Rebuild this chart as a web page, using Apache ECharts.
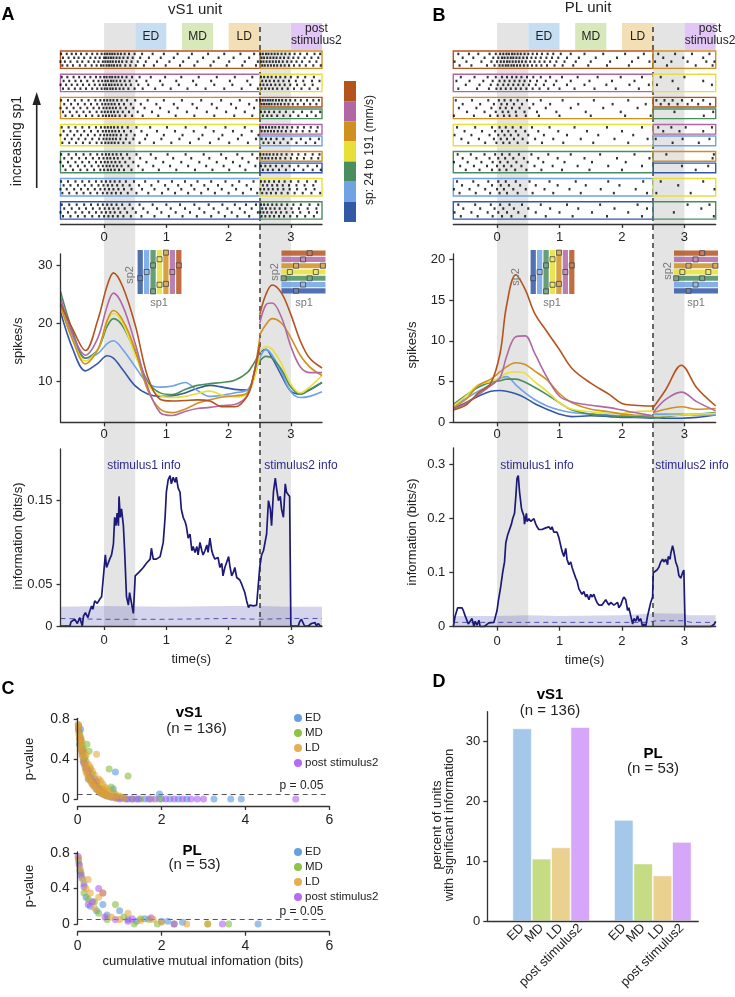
<!DOCTYPE html>
<html><head><meta charset="utf-8">
<script src="https://cdn.jsdelivr.net/npm/echarts@6/dist/echarts.min.js"></script>
<style>html,body{margin:0;padding:0;background:#fff}#c{width:735px;height:997px}</style>
</head><body><div id="c"></div>
<script>
// ---------------- DATA ----------------
const epochNames = ['ED', 'MD', 'LD', 'post stimulus2'];
const epochWindows = [[0.5, 1.0], [1.25, 1.75], [2.0, 2.5], [3.0, 3.5]];
const stimWindows = [[0, 0.5], [2.5, 3.0]];
const timeTicks = [0, 1, 2, 3];

// raster: spike times (centiseconds) per trial, rows from highest sp1 (top) to lowest
const rasterA_left = [
 ["-69 -60 -52 -45 -37 -28 -19 -11 -4 1 5 9 13 17 22 27 33 40 49 61 78 96 118 141 167 193 219 241","-66 -57 -48 -41 -32 -22 -14 -7 0 3 7 11 15 20 25 31 38 46 58 72 91 112 136 159 184 208 233","-70 -63 -54 -43 -35 -25 -16 -9 -2 2 6 10 14 19 24 29 36 44 54 67 85 105 127 150 176 201 226 247","-67 -59 -50 -39 -30 -20 -12 -5 -1 4 8 12 16 21 26 34 42 51 64 80 99 122 145 171 197 222 244"],
 ["-68 -59 -49 -40 -31 -22 -13 -6 0 4 9 13 18 23 29 36 45 57 75 98 124 152 181 210 238","-65 -56 -46 -37 -27 -17 -9 -3 2 6 11 15 20 26 33 41 52 68 90 116 143 172 202 230","-70 -61 -52 -43 -34 -24 -15 -7 -1 3 8 12 17 22 28 35 43 55 71 94 120 148 177 206 235","-66 -57 -47 -38 -29 -19 -11 -4 1 5 10 14 19 25 31 39 49 62 82 107 134 163 193 221 247"],
 ["-69 -58 -47 -36 -25 -14 -6 0 5 10 15 21 28 37 50 70 96 125 156 188 218 245","-64 -53 -42 -31 -21 -11 -3 2 7 12 17 24 32 43 59 84 112 142 173 204 233","-70 -60 -49 -38 -27 -17 -8 -1 4 9 14 19 26 35 47 65 90 118 149 181 212 241","-66 -55 -44 -33 -23 -12 -4 1 6 11 16 22 30 40 54 77 104 133 165 196 226","-62 -51 -40 -29 -19 -9 -2 3 8 13 18 25 34 45 62 87 115 145 177 209 238"],
 ["-68 -57 -46 -35 -24 -13 -5 1 6 11 16 22 29 38 52 74 101 131 163 195 226","-65 -54 -43 -32 -21 -10 -2 3 8 13 18 24 32 43 60 85 114 144 176 207 237","-70 -59 -48 -37 -26 -15 -6 0 5 10 15 20 27 36 49 69 96 126 158 190 221 248","-63 -52 -41 -30 -19 -8 -1 4 9 14 19 26 35 47 66 92 121 152 184 215 244","-67 -56 -45 -34 -23 -12 -4 2 7 12 17 23 31 41 57 80 108 138 170 201 231"],
 ["-69 -57 -45 -33 -22 -11 -3 3 8 14 20 27 37 52 75 102 131 160 188 214 238","-64 -52 -40 -29 -18 -8 -1 5 10 16 22 30 41 58 83 111 140 169 196 222 246","-70 -58 -46 -35 -24 -13 -5 1 6 12 18 25 34 47 68 95 124 153 181 207 232","-66 -54 -42 -31 -20 -9 -2 4 9 15 21 28 39 55 79 106 135 164 192 218 243","-62 -50 -38 -27 -16 -6 0 6 11 17 24 32 44 62 88 116 146 174 201 227"],
 ["-69 -58 -46 -35 -24 -13 -4 3 10 17 25 35 48 66 87 109 130 150 172 195 217 240","-65 -54 -42 -31 -20 -9 -1 6 13 21 30 41 56 76 98 119 140 161 183 206 229","-70 -60 -48 -37 -26 -15 -6 1 8 15 23 32 44 61 81 103 124 145 167 189 212 236","-67 -56 -44 -33 -22 -11 -2 5 12 19 27 38 52 71 93 114 135 156 178 200 223 246"],
 ["-68 -56 -44 -32 -21 -10 -2 5 12 20 29 41 57 78 100 122 145 168 190 210 228 244","-64 -52 -40 -29 -18 -7 1 8 15 23 33 46 63 85 107 130 153 176 198 218 237","-70 -58 -46 -35 -24 -13 -4 3 10 17 26 37 51 70 92 115 138 161 184 205 226 247","-66 -54 -42 -31 -19 -8 0 7 14 22 31 43 60 81 104 126 149 172 194 214 233"]
];
const rasterA_right = [
 [["251 255 260 264 269 274 279 285 291 298 306 315 326 338 347","253 257 262 267 272 277 283 289 296 304 312 322 333 344","252 256 261 266 271 276 281 287 294 301 309 318 330 341","254 258 263 268 273 278 284 290 297 305 314 324 336 348"]],
 [["252 257 263 269 276 283 291 300 311 323 337","254 260 266 273 280 288 297 308 320 334 346","251 256 262 268 275 282 290 299 310 322 335","253 259 265 271 278 286 295 305 317 330 343"]],
 [["251 255 259 263 267 271 276 281 286 292 299 307 316 326 336 345","253 257 261 265 269 274 279 284 290 296 303 311 321 331 341"],["252 258 265 273 282 292 304 318 333 347","255 262 269 278 288 299 312 326 340"]],
 [["251 255 260 265 270 275 281 287 294 302 311 321 332 343","253 258 263 268 273 279 285 292 300 309 319 330 341"],["253 260 268 277 288 301 316 331 345","256 264 273 283 295 309 324 339"]],
 [["251 256 261 266 272 278 285 293 302 312 323 335 346","254 259 264 270 276 283 291 300 310 321 333 344"],["252 259 267 276 286 298 312 327 342","255 263 271 281 292 305 320 335 348"]],
 [["252 258 265 273 281 290 300 312 326 340","255 262 270 278 287 297 309 322 336","251 257 264 271 279 288 298 310 324 338","254 261 268 276 285 295 306 319 333 347"]],
 [["252 257 263 270 277 285 294 304 316 330 344","254 260 267 274 282 291 301 313 327 341","251 256 262 269 276 284 293 303 315 329 342","253 259 266 273 281 289 299 310 323 337"]]
];
const rasterB_left = [
 ["-62 -45 -30 -12 -2 5 10 15 19 24 28 33 38 44 50 57 64 72 81 90 102 118 140 170 205 235","-55 -38 -20 -6 2 8 12 17 22 26 31 36 42 48 55 62 70 79 88 98 112 131 158 192 226","-68 -49 -25 -9 0 6 11 16 20 25 30 35 40 46 53 60 68 76 85 95 108 126 150 181 216 244","-60 -41 -16 -4 4 9 14 18 23 27 32 37 43 49 56 63 71 80 92 105 122 146 176 211"],
 ["-58 -36 -15 -2 8 16 24 31 39 48 58 70 85 104 129 161 198 232","-65 -44 -22 -7 4 12 20 28 36 44 53 64 78 95 118 148 184 220","-50 -28 -10 1 10 18 26 34 42 51 62 75 91 112 140 175 212 243","-62 -32 -13 -1 6 14 22 30 38 47 57 68 82 100 124 156 190 227"],
 ["-66 -40 -14 3 12 22 33 48 70 105 155 210","-55 -27 -5 7 16 27 40 58 85 130 185 238","-61 -33 -9 5 14 24 36 52 78 118 170 225","-48 -20 -2 9 18 30 44 64 95 142 198","-69 -37 -11 1 11 20 31 46 67 100 150 205 246"],
 ["-64 -35 -8 4 14 25 38 56 84 124 176 232","-52 -24 -3 8 18 30 45 66 98 144 200","-68 -41 -12 2 12 22 34 50 75 112 162 218","-57 -29 -5 6 16 27 41 61 90 134 188 241","-46 -19 -1 10 20 33 49 72 106 154 210"],
 ["-63 -42 -20 -3 8 20 35 55 82 118 165 220","-55 -33 -12 2 13 26 43 66 97 140 192 244","-69 -47 -25 -7 5 17 31 49 74 108 152 206","-59 -37 -16 0 11 23 39 60 89 129 178 232","-50 -28 -8 4 15 29 47 71 104 148 200"],
 ["-64 -38 -14 2 14 30 52 84 126 178 234","-56 -30 -8 6 19 37 62 97 142 196","-69 -44 -19 0 11 26 46 76 116 166 222","-60 -34 -11 4 16 33 57 90 134 187 240"],
 ["-62 -35 -10 5 20 40 70 112 165 225","-54 -27 -4 10 27 50 85 130 188 240","-68 -41 -15 2 16 34 62 100 152 210","-58 -31 -7 8 23 45 78 121 176 232"]
];
const rasterB_right = [
 [["258 285 312 340","266 298 330","253 279 305 335 348","272 318 345"]],
 [["262 300","281 330","256 344","290"]],
 [["255 268 281 296 312 330","262 275 289 305 322 341"],["284 346","331"]],
 [["258 279 302 344","266 292 330"],["254 297 340","281 323"]],
 [["271 347","345"],["296 338","318"]],
 [["262 330","290","348","255 310"]],
 [["305 340","327","283","347"]]
];
// sp2 condition index of each right-hand (post stimulus2) box, per row
const rightBoxCond = [[2], [3], [0, 4], [1, 5], [2, 6], [3], [4]];

// firing rates (spikes/s), rows: highest sp1 -> lowest
const rateTimesPreA = [-0.7,-0.5,-0.3,-0.1,0.05,0.15,0.3,0.5,0.7,0.9,1.1,1.3,1.5,1.7,1.9,2.1,2.3,2.4,2.5];
const rateTimesPostA = [2.5,2.6,2.7,2.85,3.0,3.15,3.3,3.5];
const ratePreA = [
 [23.4,18.9,15.3,20.6,26.5,28.7,26.3,19.7,10.8,6.9,6.6,6.7,6.8,6.6,5.6,5.6,7.5,11,16.5],
 [24.5,18,14.5,17.5,23,25.2,23,16.5,9,4.6,4.1,4.8,5.3,5.5,5.8,6.0,7.5,11,16],
 [23,17,13,15.5,20.5,22.2,20.5,15.5,8.5,5.2,4.6,5.2,6.2,6.8,7.3,7.5,8,11,17.5],
 [23,17,13.5,15.5,20.3,21.7,20,14.5,9.5,7.5,7.2,7.4,7.9,8.3,7.6,7.3,7.8,10,14.5],
 [25.5,18.5,14,15.5,19.5,20.8,19.5,15,10,8,7.7,8.6,9.3,9.6,9.8,10.2,11.5,13,15],
 [23.5,17.5,14,14.8,16.5,17,15.5,12.5,9.7,9,9.2,9.8,8.4,7.4,7.6,8,8.5,10.5,14],
 [22,15.5,11.8,13.1,14.4,14,12,9.2,7.8,7.4,7.5,8,8.8,9.3,9,8.6,8.5,10.5,14.5]
];
const ratePostA = [
 [21.5,25,26.6,25.2,21.5,17,14,12.3],
 [20,23.2,23.5,21,16,12.5,11.5,11.5],
 [18,19.8,20.8,20,17.5,14.5,12.5,11],
 [15,16,15.5,13,9.5,8,9,11],
 [13.5,14.3,14,12,9,7.8,8.6,9.8],
 [14,15.5,14.5,11.5,8.2,7.2,7.4,8.2],
 [15,15.5,14,11,8.3,7.8,8.5,9.8]
];
const rateTimesPreB = [-0.7,-0.5,-0.3,-0.1,0.05,0.15,0.3,0.45,0.6,0.8,1.0,1.2,1.5,1.8,2.0,2.2,2.5];
const rateTimesPostB = [2.5,2.7,2.95,3.2,3.5];
const ratePreB = [
 [1.5,2.1,3.6,4.8,8.5,14.2,18.1,16.3,13.4,11.1,8.9,6.6,4.8,3.4,2.3,2.1,2.0],
 [1.6,2.3,3.4,4.5,5.5,8.0,10.5,10.6,8.5,5.5,3.2,2.5,2.1,1.8,1.5,1.2,0.8],
 [1.8,2.8,4.5,5.3,6.2,6.8,7.3,7.1,6.3,5.2,3.5,2.4,1.6,1.3,1.0,0.9,0.8],
 [2.0,3.2,4.6,5.0,5.5,6.0,6.2,6.0,5.0,3.8,2.4,1.6,1.3,1.1,1.1,1.3,1.4],
 [2.2,3.3,4.3,4.9,5.1,5.3,5.3,4.9,4.3,3.4,2.4,1.5,1.0,0.8,0.7,0.7,0.6],
 [2.0,2.9,3.8,4.6,5.4,5.6,4.6,3.6,2.8,2.0,1.5,1.2,1.0,0.9,0.8,0.7,0.6],
 [1.7,2.4,3.2,3.8,3.9,3.8,3.5,3.0,2.3,1.6,1.0,0.7,0.8,0.7,0.6,0.6,0.5]
];
const ratePostB = [
 [1.8,4.0,7.0,4.2,2.0],
 [1.2,2.8,3.7,2.5,1.4],
 [1.2,1.6,1.9,1.6,1.7],
 [0.8,0.8,0.9,1.0,1.1],
 [0.5,0.7,0.9,1.0,1.2],
 [1.0,1.0,1.0,0.9,0.9],
 [0.6,0.5,0.5,0.6,0.9]
];

// information (bits/s): [time, value]
const infoA = [[-0.71,0],[-0.55,0],[-0.53,0.005],[-0.47,0.008],[-0.43,0.003],[-0.39,0.01],[-0.35,0],[-0.33,0.012],[-0.3,0.016],[-0.26,0.01],[-0.23,0.018],[-0.2,0.024],[-0.18,0.02],[-0.15,0.03],[-0.11,0.027],[-0.07,0.032],[-0.04,0.035],[-0.01,0.033],[0.02,0.085],[0.04,0.07],[0.06,0.07],[0.09,0.08],[0.12,0.085],[0.15,0.098],[0.17,0.13],[0.19,0.12],[0.21,0.135],[0.23,0.12],[0.24,0.155],[0.26,0.13],[0.28,0.14],[0.31,0.12],[0.33,0.09],[0.36,0.035],[0.39,0.025],[0.41,0.04],[0.44,0.04],[0.47,0.015],[0.48,0.013],[0.5,0.06],[0.53,0.062],[0.57,0.065],[0.63,0.07],[0.68,0.075],[0.74,0.08],[0.76,0.093],[0.79,0.08],[0.84,0.08],[0.9,0.083],[0.92,0.085],[0.95,0.1],[0.98,0.13],[1.0,0.16],[1.03,0.175],[1.06,0.18],[1.08,0.17],[1.11,0.178],[1.14,0.172],[1.16,0.178],[1.19,0.165],[1.22,0.16],[1.24,0.14],[1.27,0.13],[1.3,0.125],[1.32,0.12],[1.35,0.105],[1.38,0.11],[1.41,0.09],[1.43,0.095],[1.46,0.088],[1.49,0.095],[1.51,0.085],[1.54,0.1],[1.57,0.09],[1.59,0.085],[1.62,0.09],[1.65,0.097],[1.67,0.088],[1.7,0.105],[1.73,0.09],[1.75,0.085],[1.78,0.08],[1.81,0.078],[1.83,0.082],[1.86,0.07],[1.89,0.075],[1.91,0.06],[1.94,0.07],[1.97,0.068],[2.0,0.083],[2.02,0.072],[2.05,0.06],[2.08,0.065],[2.1,0.07],[2.13,0.058],[2.16,0.06],[2.18,0.055],[2.21,0.05],[2.24,0.048],[2.26,0.04],[2.29,0.03],[2.32,0.022],[2.34,0.025],[2.37,0.023],[2.4,0.024],[2.42,0.025],[2.45,0.025],[2.48,0.026],[2.5,0.07],[2.53,0.085],[2.56,0.09],[2.58,0.09],[2.61,0.11],[2.64,0.15],[2.67,0.14],[2.69,0.12],[2.72,0.16],[2.75,0.177],[2.77,0.165],[2.8,0.15],[2.83,0.155],[2.85,0.14],[2.88,0.13],[2.91,0.17],[2.93,0.16],[2.96,0.162],[2.98,0.155],[3.0,0],[3.12,0],[3.14,0.005],[3.17,0.008],[3.2,0.008],[3.22,0],[3.28,0],[3.33,0.003],[3.36,0.002],[3.39,0.004],[3.41,0],[3.44,0.003],[3.47,0],[3.5,0]];
const infoB = [[-0.7,0],[-0.67,0.02],[-0.63,0.035],[-0.6,0.038],[-0.56,0.035],[-0.54,0.03],[-0.51,0.02],[-0.48,0.02],[-0.46,0.005],[-0.43,0.01],[-0.4,0.015],[-0.37,0],[-0.35,0.01],[-0.32,0.003],[-0.29,0.012],[-0.27,0],[-0.24,0.003],[-0.21,0],[-0.19,0.003],[-0.13,0.007],[-0.11,0.008],[-0.05,0.008],[-0.03,0.01],[0,0.03],[0.02,0.047],[0.04,0.05],[0.06,0.075],[0.09,0.1],[0.12,0.12],[0.14,0.155],[0.17,0.17],[0.2,0.17],[0.23,0.19],[0.25,0.2],[0.28,0.21],[0.3,0.24],[0.32,0.275],[0.34,0.28],[0.36,0.25],[0.39,0.22],[0.4,0.215],[0.43,0.205],[0.44,0.19],[0.47,0.21],[0.48,0.195],[0.51,0.2],[0.54,0.195],[0.56,0.195],[0.59,0.2],[0.62,0.19],[0.64,0.185],[0.67,0.18],[0.7,0.18],[0.72,0.18],[0.75,0.178],[0.78,0.183],[0.8,0.18],[0.83,0.185],[0.86,0.18],[0.88,0.185],[0.91,0.175],[0.94,0.178],[0.96,0.175],[0.99,0.165],[1.02,0.15],[1.04,0.14],[1.07,0.13],[1.1,0.145],[1.12,0.125],[1.15,0.115],[1.18,0.12],[1.2,0.11],[1.23,0.1],[1.26,0.09],[1.28,0.085],[1.31,0.07],[1.34,0.07],[1.36,0.06],[1.39,0.065],[1.42,0.055],[1.44,0.06],[1.47,0.05],[1.5,0.06],[1.52,0.055],[1.55,0.06],[1.58,0.05],[1.6,0.045],[1.63,0.04],[1.66,0.038],[1.68,0.04],[1.71,0.04],[1.74,0.05],[1.77,0.052],[1.79,0.04],[1.82,0.045],[1.85,0.042],[1.87,0.04],[1.9,0.04],[1.93,0.045],[1.95,0.035],[1.98,0.04],[2.01,0.05],[2.03,0.055],[2.06,0.05],[2.09,0.03],[2.11,0.035],[2.14,0.02],[2.17,0.005],[2.19,0.015],[2.22,0.01],[2.25,0.02],[2.27,0.01],[2.3,0.015],[2.33,0],[2.35,0.005],[2.38,0],[2.41,0.02],[2.43,0.03],[2.46,0.045],[2.49,0.055],[2.5,0.1],[2.52,0.1],[2.56,0.105],[2.59,0.11],[2.62,0.12],[2.65,0.125],[2.67,0.12],[2.7,0.125],[2.73,0.115],[2.74,0.13],[2.77,0.125],[2.78,0.135],[2.81,0.15],[2.83,0.14],[2.86,0.12],[2.89,0.11],[2.91,0.095],[2.94,0.09],[2.97,0.1],[2.99,0.105],[3.01,0],[3.42,0],[3.48,0.005],[3.5,0.01]];
// shuffled-data control: upper bound and mean
const shufHiA = [[-0.7,0.023],[0,0.024],[1,0.023],[2,0.024],[2.5,0.024],[3,0.023],[3.5,0.023]];
const shufMeanA = [[-0.7,0.009],[0,0.008],[1,0.008],[2,0.009],[2.5,0.008],[3,0.009],[3.5,0.009]];
const shufHiB = [[-0.7,0.02],[0,0.02],[0.5,0.021],[1,0.02],[2,0.021],[2.5,0.025],[3,0.024],[3.05,0.021],[3.5,0.021]];
const shufMeanB = [[-0.7,0.008],[2.4,0.008],[2.55,0.011],[3,0.011],[3.1,0.008],[3.5,0.008]];

// panel C: [cumulative mutual information (bits), p-value]
const vs1ED = [[0.02,0.74],[0.03,0.68],[0.05,0.62],[0.04,0.55],[0.08,0.58],[0.1,0.5],[0.12,0.44],[0.15,0.4],[0.18,0.35],[0.2,0.31],[0.24,0.27],[0.28,0.22],[0.32,0.19],[0.36,0.15],[0.4,0.13],[0.45,0.1],[0.5,0.08],[0.55,0.06],[0.6,0.05],[0.65,0.04],[0.7,0.03],[0.8,0.02],[0.9,0.27],[0.85,0.1],[0.95,0.01],[1.05,0.01],[1.2,0],[1.4,0],[1.6,0],[1.95,0.05],[2.0,0],[2.2,0],[2.4,0],[2.6,0],[3.25,0],[3.65,0],[3.9,0],[0.25,0.2],[0.07,0.7],[0.13,0.38]];
const vs1MD = [[0.02,0.72],[0.05,0.66],[0.07,0.6],[0.1,0.54],[0.12,0.47],[0.17,0.42],[0.22,0.55],[0.27,0.48],[0.3,0.3],[0.35,0.25],[0.4,0.2],[0.45,0.16],[0.5,0.12],[0.55,0.1],[0.6,0.06],[0.7,0.05],[0.75,0.3],[0.8,0.12],[0.9,0.03],[1.0,0.02],[1.2,0.23],[1.1,0.01],[1.3,0],[1.5,0],[1.75,0],[1.95,0],[0.2,0.38],[0.14,0.5],[0.65,0.08],[0.85,0.06]];
const vs1LD = [[0.01,0.75],[0.02,0.7],[0.03,0.65],[0.04,0.6],[0.05,0.55],[0.06,0.5],[0.08,0.52],[0.1,0.45],[0.12,0.42],[0.14,0.38],[0.16,0.34],[0.18,0.3],[0.2,0.27],[0.22,0.25],[0.25,0.22],[0.28,0.2],[0.3,0.18],[0.33,0.16],[0.36,0.14],[0.4,0.12],[0.44,0.1],[0.48,0.09],[0.52,0.07],[0.56,0.06],[0.6,0.05],[0.65,0.04],[0.7,0.03],[0.75,0.025],[0.8,0.02],[0.9,0.01],[0.45,0.45],[0.35,0.28],[0.5,0.2],[0.6,0.15],[0.7,0.1],[0.08,0.62],[0.15,0.48],[0.25,0.35],[0.4,0.24],[0.55,0.18],[0.65,0.12],[0.03,0.72],[0.1,0.58],[0.2,0.44],[0.3,0.32],[0.45,0.16],[0.58,0.1],[0.75,0.07],[0.9,0.05],[1.0,0.03],[1.1,0.01]];
const vs1Post = [[0.02,0.7],[0.05,0.6],[0.1,0.48],[0.15,0.36],[0.2,0.3],[0.3,0.22],[0.4,0.15],[0.5,0.1],[0.6,0.07],[0.7,0.04],[0.8,0.02],[0.9,0.01],[1.0,0],[1.15,0],[1.3,0],[1.45,0],[1.7,0],[1.85,0],[2.1,0],[2.3,0],[2.5,0],[2.7,0],[2.85,0],[3.0,0],[5.2,0],[0.45,0.18],[0.25,0.28]];
const plED = [[0.02,0.72],[0.05,0.6],[0.1,0.52],[0.15,0.45],[0.2,0.3],[0.3,0.2],[0.45,0.15],[0.6,0.22],[0.7,0.1],[1.0,0.15],[1.2,0.05],[1.4,0.03],[1.6,0.06],[2.0,0.03],[2.15,0.03],[2.5,0.02],[4.3,0]];
const plMD = [[0.03,0.68],[0.08,0.58],[0.15,0.35],[0.25,0.28],[0.4,0.25],[0.5,0.12],[0.7,0.05],[0.9,0.22],[1.1,0.08],[1.35,0],[1.5,0.06],[1.7,0.05],[1.9,0],[2.3,0],[3.1,0],[3.6,0]];
const plLD = [[0.02,0.74],[0.06,0.62],[0.12,0.5],[0.2,0.4],[0.25,0.5],[0.3,0.35],[0.4,0.18],[0.5,0.3],[0.6,0.35],[0.8,0.08],[1.0,0.05],[1.2,0.12],[1.5,0.04],[1.8,0.05],[2.0,0.02],[2.6,0],[3.1,0]];
const plPost = [[0.01,0.76],[0.04,0.66],[0.08,0.55],[0.15,0.42],[0.25,0.22],[0.35,0.25],[0.5,0.4],[0.6,0.35],[0.65,0.08],[0.9,0.05],[1.2,0.03],[1.3,0.06],[1.75,0.07],[2.3,0],[3.45,0]];
const pThreshold = 0.05;

// panel D: percent of units with significant information
const pctVS1 = [32.2, 10.4, 12.3, 32.4];
const pctPL = [16.9, 9.6, 7.6, 13.2];

// inset schematics: square markers (sp1 index, sp2 fraction) and (sp1 fraction, sp2 index)
const insetSqVert = [[0,0.36],[1,0.5],[2,0.65],[2,0.06],[3,0.79],[3,0.21],[4,0.94],[4,0.23],[5,0.5],[6,0.65]];
const insetSqHorz = [[0.64,0],[0.49,1],[0.33,2],[0.94,2],[0.19,3],[0.78,3],[0.05,4],[0.64,4],[0.49,5],[0.33,6]];
const speedBins = ['1','2','3','4','5','6','7'];

// ---------------- STYLE ----------------
const FONT = '"Liberation Sans", Arial, Helvetica, sans-serif';
const AX = '#333';
const SPC = ['#b5531d','#b068a4','#d0901f','#e6e039','#4b8d5f','#6fa3e4','#3358a6'];
const EPC = ['#c7ddf1','#d9e8bb','#f2dfb5','#e2c6f6'];
const SCAT = ['#4b8fdc','#7ab82a','#e2a130','#a950f4'];
const BARC = ['#a5c8ea','#c5dc84','#ebd18f','#d6a6f8'];
const GRAY = '#e4e4e4';
const NAVY = '#1c1a76';

const grids = [], xAxes = [], yAxes = [], series = [], graphics = [];
function addGrid(g, x, y) {
  const i = grids.length;
  grids.push(Object.assign({ containLabel: false }, g));
  xAxes.push(Object.assign({ gridIndex: i }, x));
  yAxes.push(Object.assign({ gridIndex: i }, y));
  return i;
}
const hid = (min, max, extra) => Object.assign({ type: 'value', min, max, show: false }, extra || {});
const lineSt = { color: AX, width: 1.3 };
function valAxis(min, max, ticks, extra) {
  return Object.assign({
    type: 'value', min, max, z: 10,
    axisLine: { show: true, onZero: false, lineStyle: lineSt },
    axisTick: { show: true, length: 4, customValues: ticks, lineStyle: lineSt },
    axisLabel: { customValues: ticks, color: '#222', fontSize: 13, fontFamily: FONT, margin: 7 },
    splitLine: { show: false }
  }, extra || {});
}
function text(x, y, t, o) {
  o = o || {};
  const fs = o.size || 13;
  graphics.push({
    type: 'text', x, y, rotation: o.rot || 0, z: 50, silent: true,
    style: {
      text: t, fill: o.color || '#222',
      font: (o.bold ? 'bold ' : '') + fs + 'px ' + FONT,
      align: o.align || 'center', verticalAlign: 'middle',
      textAlign: o.align || 'center', textVerticalAlign: 'middle', lineHeight: o.lh || fs + 1
    }
  });
}
const T = s => s.trim().split(/\s+/).map(v => +v / 100);

function buildRaster(left, right) {
  const boxes = [], spikes = [];
  let y = 1.55;
  left.forEach((trials, r) => {
    const top = y, bottom = y + trials.length + 0.5;
    boxes.push([-0.7, 2.5, top, bottom, r]);
    trials.forEach((s, k) => T(s).forEach(t => spikes.push([t, top + 0.75 + k])));
    const subs = right[r];
    if (subs.length === 1) {
      boxes.push([2.5, 3.5, top, bottom, rightBoxCond[r][0]]);
      subs[0].forEach((s, k) => T(s).forEach(t => spikes.push([t, top + 0.75 + k])));
    } else {
      boxes.push([2.5, 3.5, top, top + 2.5, rightBoxCond[r][0]]);
      boxes.push([2.5, 3.5, top + 3.0, bottom, rightBoxCond[r][1]]);
      subs[0].forEach((s, k) => T(s).forEach(t => spikes.push([t, top + 0.75 + k])));
      subs[1].forEach((s, k) => T(s).forEach(t => spikes.push([t, top + 3.75 + k])));
    }
    y = bottom + 1.5;
  });
  return { boxes, spikes };
}

function buildColumn(P) {
  const L = P.left, W = P.width;
  const col = { left: L, width: W };
  // background: gray stimulus bands + dashed line
  const gBg = addGrid(Object.assign({ top: 23, height: 603 }, col), hid(-0.7, 3.5), hid(0, 1));
  series.push({ type: 'line', xAxisIndex: gBg, yAxisIndex: gBg, data: [], z: -5, silent: true,
    markArea: { silent: true, itemStyle: { color: GRAY }, data: stimWindows.map(w => [{ xAxis: w[0] }, { xAxis: w[1] }]) } });
  series.push({ type: 'line', xAxisIndex: gBg, yAxisIndex: gBg, data: [], z: 20, silent: true,
    markLine: { silent: true, symbol: 'none', label: { show: false },
      lineStyle: { color: '#444', type: [5, 4], width: 1.6 }, data: [{ xAxis: stimWindows[1][0] }] } });
  // header epoch boxes
  const gH = addGrid(Object.assign({ top: 23, height: 27 }, col), hid(-0.7, 3.5), hid(0, 1));
  series.push({ type: 'line', xAxisIndex: gH, yAxisIndex: gH, data: [], z: 1, silent: true,
    markArea: { silent: true, data: epochWindows.map((w, i) => [{
      xAxis: w[0], itemStyle: { color: EPC[i] },
      label: { show: true, position: 'inside', color: '#222', fontSize: 12, fontFamily: FONT, lineHeight: 12,
        formatter: i === 3 ? 'post\nstimulus2' : epochNames[i], offset: i === 3 ? [10, -2] : [0, 0] } }, { xAxis: w[1] }]) } });
  // raster
  const R = buildRaster(P.rasterL, P.rasterR);
  const gR = addGrid(Object.assign({ top: 45, height: 179 }, col),
    valAxis(-0.7, 3.5, timeTicks, { axisLabel: { customValues: timeTicks, color: '#222', fontSize: 13, fontFamily: FONT, margin: 7 } }),
    hid(0, 46.3, { inverse: true }));
  series.push({ type: 'custom', xAxisIndex: gR, yAxisIndex: gR, data: R.boxes, z: 5, silent: true, clip: false,
    encode: { x: [0, 1], y: [2, 3] },
    renderItem: (params, api) => {
      const p0 = api.coord([api.value(0), api.value(2)]);
      const p1 = api.coord([api.value(1), api.value(3)]);
      return { type: 'rect', shape: { x: p0[0], y: p0[1], width: p1[0] - p0[0], height: p1[1] - p0[1] },
        style: { fill: 'none', stroke: SPC[api.value(4)], lineWidth: 1.4 } };
    } });
  series.push({ type: 'scatter', xAxisIndex: gR, yAxisIndex: gR, data: R.spikes, z: 6, silent: true,
    symbol: 'rect', symbolSize: [2, 2.5], itemStyle: { color: '#000' } });
  // firing rate
  const gRate = addGrid(Object.assign({ top: 254, height: 168.3 }, col),
    valAxis(-0.7, 3.5, timeTicks, { axisLabel: { customValues: timeTicks, color: '#222', fontSize: 13, fontFamily: FONT, margin: 6 } }),
    valAxis(P.rateMin, P.rateMax, P.rateTicks, { axisLabel: { customValues: P.rateTicks, color: '#222', fontSize: 13, fontFamily: FONT, margin: 8 } }));
  for (let r = 6; r >= 0; r--) {
    [[P.tPre, P.ratePre[r]], [P.tPost, P.ratePost[r]]].forEach(([ts, vs]) => {
      series.push({ type: 'line', xAxisIndex: gRate, yAxisIndex: gRate, smooth: 0.35, showSymbol: false, z: 5, silent: true,
        lineStyle: { color: SPC[r], width: 1.6 }, itemStyle: { color: SPC[r] },
        data: ts.map((t, i) => [t, vs[i]]) });
    });
  }
  // information
  const gI = addGrid(Object.assign({ top: P.infoTop, height: P.infoH }, col),
    valAxis(-0.7, 3.5, timeTicks, { name: 'time(s)', nameLocation: 'middle', nameGap: 27,
      nameTextStyle: { fontSize: 13, color: '#222', fontFamily: FONT },
      axisLabel: { customValues: timeTicks, color: '#222', fontSize: 13, fontFamily: FONT, margin: 8 } }),
    valAxis(0, P.infoMax, P.infoTicks, { axisLabel: { customValues: P.infoTicks, color: '#222', fontSize: 13, fontFamily: FONT, margin: 8 } }));
  series.push({ type: 'line', xAxisIndex: gI, yAxisIndex: gI, data: P.shufHi, showSymbol: false, z: 3, silent: true,
    lineStyle: { width: 0 }, areaStyle: { color: 'rgba(112,112,196,0.30)', opacity: 1 } });
  series.push({ type: 'line', xAxisIndex: gI, yAxisIndex: gI, data: P.shufMean, showSymbol: false, z: 4, silent: true,
    lineStyle: { color: '#5050aa', width: 1, type: [5, 4] } });
  series.push({ type: 'line', xAxisIndex: gI, yAxisIndex: gI, data: P.info, showSymbol: false, z: 6, silent: true,
    lineStyle: { color: NAVY, width: 1.7 } });
  // insets
  const insV = addGrid({ left: P.insV, top: 250, width: 45, height: 44 },
    { type: 'category', data: speedBins, show: false }, hid(0, 1));
  series.push({ type: 'bar', xAxisIndex: insV, yAxisIndex: insV, z: 5, silent: true, barCategoryGap: '18%',
    data: speedBins.map((b, i) => ({ value: 1, itemStyle: { color: SPC[6 - i], opacity: 0.85 } })) });
  series.push({ type: 'scatter', xAxisIndex: insV, yAxisIndex: insV, z: 6, silent: true, symbol: 'rect', symbolSize: 5,
    itemStyle: { color: 'rgba(255,255,255,0.15)', borderColor: '#444', borderWidth: 1 }, data: insetSqVert });
  const insH = addGrid({ left: P.insH, top: 250, width: 44, height: 44 },
    hid(0, 1), { type: 'category', data: speedBins, show: false, inverse: true });
  series.push({ type: 'bar', xAxisIndex: insH, yAxisIndex: insH, z: 5, silent: true, barCategoryGap: '18%',
    data: speedBins.map((b, i) => ({ value: 1, itemStyle: { color: SPC[i], opacity: 0.85 } })) });
  series.push({ type: 'scatter', xAxisIndex: insH, yAxisIndex: insH, z: 6, silent: true, symbol: 'rect', symbolSize: 5,
    itemStyle: { color: 'rgba(255,255,255,0.15)', borderColor: '#444', borderWidth: 1 }, data: insetSqHorz });
}

buildColumn({ left: 60.5, width: 261.5, rasterL: rasterA_left, rasterR: rasterA_right,
  rateMin: 2.93, rateMax: 31.95, rateTicks: [10, 20, 30], tPre: rateTimesPreA, tPost: rateTimesPostA, ratePre: ratePreA, ratePost: ratePostA,
  infoTop: 449, infoH: 177, infoMax: 0.2117, infoTicks: [0, 0.05, 0.15], info: infoA, shufHi: shufHiA, shufMean: shufMeanA,
  insV: 137, insH: 281.5 });
buildColumn({ left: 453.3, width: 262.4, rasterL: rasterB_left, rasterR: rasterB_right,
  rateMin: 0, rateMax: 20.64, rateTicks: [0, 5, 10, 15, 20], tPre: rateTimesPreB, tPost: rateTimesPostB, ratePre: ratePreB, ratePost: ratePostB,
  infoTop: 448, infoH: 178.7, infoMax: 0.331, infoTicks: [0, 0.1, 0.2, 0.3], info: infoB, shufHi: shufHiB, shufMean: shufMeanB,
  insV: 530, insH: 674 });

// colorbar
const gCB = addGrid({ left: 344, top: 81, width: 12, height: 141 }, hid(0, 1), { type: 'category', data: speedBins, show: false, inverse: true });
series.push({ type: 'bar', xAxisIndex: gCB, yAxisIndex: gCB, silent: true, barCategoryGap: '0%', barWidth: '100%',
  data: speedBins.map((b, i) => ({ value: 1, itemStyle: { color: SPC[i] } })) });

// panel C scatter
function scatterPanel(top, height, off, sets) {
  const g = addGrid({ left: 77.7, width: 251.6, top, height },
    { type: 'value', min: 0, max: 6, interval: 2, offset: off, z: 10,
      axisLine: { show: true, onZero: false, lineStyle: lineSt }, axisTick: { show: true, length: 4, lineStyle: lineSt },
      axisLabel: { color: '#222', fontSize: 14, fontFamily: FONT, margin: 7 }, splitLine: { show: false } },
    valAxis(0, 0.81, [0, 0.4, 0.8], { axisLabel: { customValues: [0, 0.4, 0.8], color: '#222', fontSize: 14, fontFamily: FONT, margin: 8 } }));
  const order = [0, 1, 3, 2];
  order.forEach(i => {
    series.push({ type: 'scatter', name: epochNames[i], xAxisIndex: g, yAxisIndex: g, data: sets[i], symbolSize: 7, z: 5,
      itemStyle: { color: SCAT[i], opacity: 0.55 }, silent: true });
  });
  series.push({ type: 'line', xAxisIndex: g, yAxisIndex: g, data: [], z: 4, silent: true,
    markLine: { silent: true, symbol: 'none', lineStyle: { color: '#555', type: [5, 4], width: 1.2 },
      label: { show: true, position: 'insideEndTop', formatter: 'p = ' + pThreshold, color: '#222', fontSize: 12, fontFamily: FONT, distance: [6, 2] },
      data: [{ yAxis: pThreshold }] } });
  return g;
}
scatterPanel(718.3, 80.7, 7, [vs1ED, vs1MD, vs1LD, vs1Post]);
scatterPanel(852, 72, 7.7, [plED, plMD, plLD, plPost]);

// panel D bars
const barPos = (g, i) => g * 5.25 + i + 1;
const barLabelMap = {};
const barItems = [];
[pctVS1, pctPL].forEach((arr, g) => arr.forEach((v, i) => {
  const p = barPos(g, i);
  barLabelMap[p.toFixed(2)] = epochNames[i];
  barItems.push({ value: [p, v], itemStyle: { color: BARC[i] } });
}));
const barTicks = Object.keys(barLabelMap).map(Number);
const gD = addGrid({ left: 487.3, width: 211, top: 711.7, height: 209.3 },
  { type: 'value', min: -0.8, max: 10.1, z: 10,
    axisLine: { show: true, onZero: false, lineStyle: lineSt }, axisTick: { show: false },
    axisLabel: { customValues: barTicks, rotate: 45, color: '#222', fontSize: 13, fontFamily: FONT, margin: 5,
      hideOverlap: false, showMinLabel: true, showMaxLabel: true,
      formatter: v => barLabelMap[(+v).toFixed(2)] || '' }, splitLine: { show: false } },
  valAxis(0, 35, [0, 10, 20, 30], { axisLabel: { customValues: [0, 10, 20, 30], color: '#222', fontSize: 13, fontFamily: FONT, margin: 7 } }));
series.push({ type: 'bar', xAxisIndex: gD, yAxisIndex: gD, data: barItems, barWidth: 19.2, silent: true,
  itemStyle: { borderColor: '#fff', borderWidth: 0.6 } });

// ---------------- TEXT ----------------
text(8, 15, 'A', { size: 18, bold: true, color: '#000' });
text(439, 16, 'B', { size: 18, bold: true, color: '#000' });
text(8, 689, 'C', { size: 18, bold: true, color: '#000' });
text(439, 682, 'D', { size: 18, bold: true, color: '#000' });
text(195, 10, 'vS1 unit', { size: 15 });
text(588, 8, 'PL unit', { size: 15 });
text(17.5, 141, 'increasing sp1', { size: 14, rot: Math.PI / 2 });
graphics.push({ type: 'line', silent: true, shape: { x1: 36.7, y1: 188, x2: 36.7, y2: 102 }, style: { stroke: '#222', lineWidth: 1.6 } });
graphics.push({ type: 'polygon', silent: true, shape: { points: [[36.7, 92], [32.5, 105], [40.9, 105]] }, style: { fill: '#222' } });
text(370, 150, 'sp: 24 to 191 (mm/s)', { size: 12, rot: Math.PI / 2 });
text(18, 341, 'spikes/s', { size: 13, rot: Math.PI / 2 });
text(412, 345, 'spikes/s', { size: 13, rot: Math.PI / 2 });
text(18, 536, 'information (bits/s)', { size: 13, rot: Math.PI / 2 });
text(412, 532, 'information (bits/s)', { size: 13, rot: Math.PI / 2 });
text(144, 466, 'stimulus1 info', { size: 12, color: '#2c2a8c' });
text(301, 466, 'stimulus2 info', { size: 12, color: '#2c2a8c' });
text(537, 466, 'stimulus1 info', { size: 12, color: '#2c2a8c' });
text(692, 466, 'stimulus2 info', { size: 12, color: '#2c2a8c' });
// inset labels
[[130, 275, 159, 302.5], [274.5, 272, 304, 302.5], [516, 277, 552, 302.5], [668, 271, 696, 302.5]].forEach(q => {
  text(q[0], q[1], 'sp2', { size: 11, color: '#777', rot: Math.PI / 2 });
  text(q[2], q[3], 'sp1', { size: 11, color: '#777' });
});
// panel C text
text(189, 713, 'vS1', { size: 15, bold: true, color: '#000' });
text(196.5, 728.5, '(n = 136)', { size: 15 });
text(192, 850.5, 'PL', { size: 15, bold: true, color: '#000' });
text(194.5, 865, '(n = 53)', { size: 15 });
text(29, 759, 'p-value', { size: 13, rot: Math.PI / 2 });
text(29, 886, 'p-value', { size: 13, rot: Math.PI / 2 });
text(203, 961.5, 'cumulative mutual infomation (bits)', { size: 13 });
// panel D text
text(550, 695, 'vS1', { size: 15, bold: true, color: '#000' });
text(550, 710.5, '(n = 136)', { size: 15 });
text(653, 754, 'PL', { size: 15, bold: true, color: '#000' });
text(653, 769, '(n = 53)', { size: 15 });
text(443.5, 825, 'percent of units\nwith significant information', { size: 13, rot: Math.PI / 2, lh: 12 });

const legendBase = {
  data: epochNames.map(n => ({ name: n, icon: 'circle' })), orient: 'vertical', left: 289,
  itemWidth: 8, itemHeight: 8, itemGap: 3, selectedMode: false,
  itemStyle: { opacity: 0.85 },
  textStyle: { fontSize: 11.5, color: '#222', fontFamily: FONT, lineHeight: 12, padding: [0, 0, 0, -2] }
};

const chart = echarts.init(document.getElementById('c'), null, { renderer: 'canvas' });
chart.setOption({
  animation: false,
  backgroundColor: '#fff',
  textStyle: { fontFamily: FONT },
  grid: grids, xAxis: xAxes, yAxis: yAxes, series,
  legend: [Object.assign({ top: 707 }, legendBase), Object.assign({ top: 841 }, legendBase)],
  graphic: { elements: graphics }
});
</script></body></html>
